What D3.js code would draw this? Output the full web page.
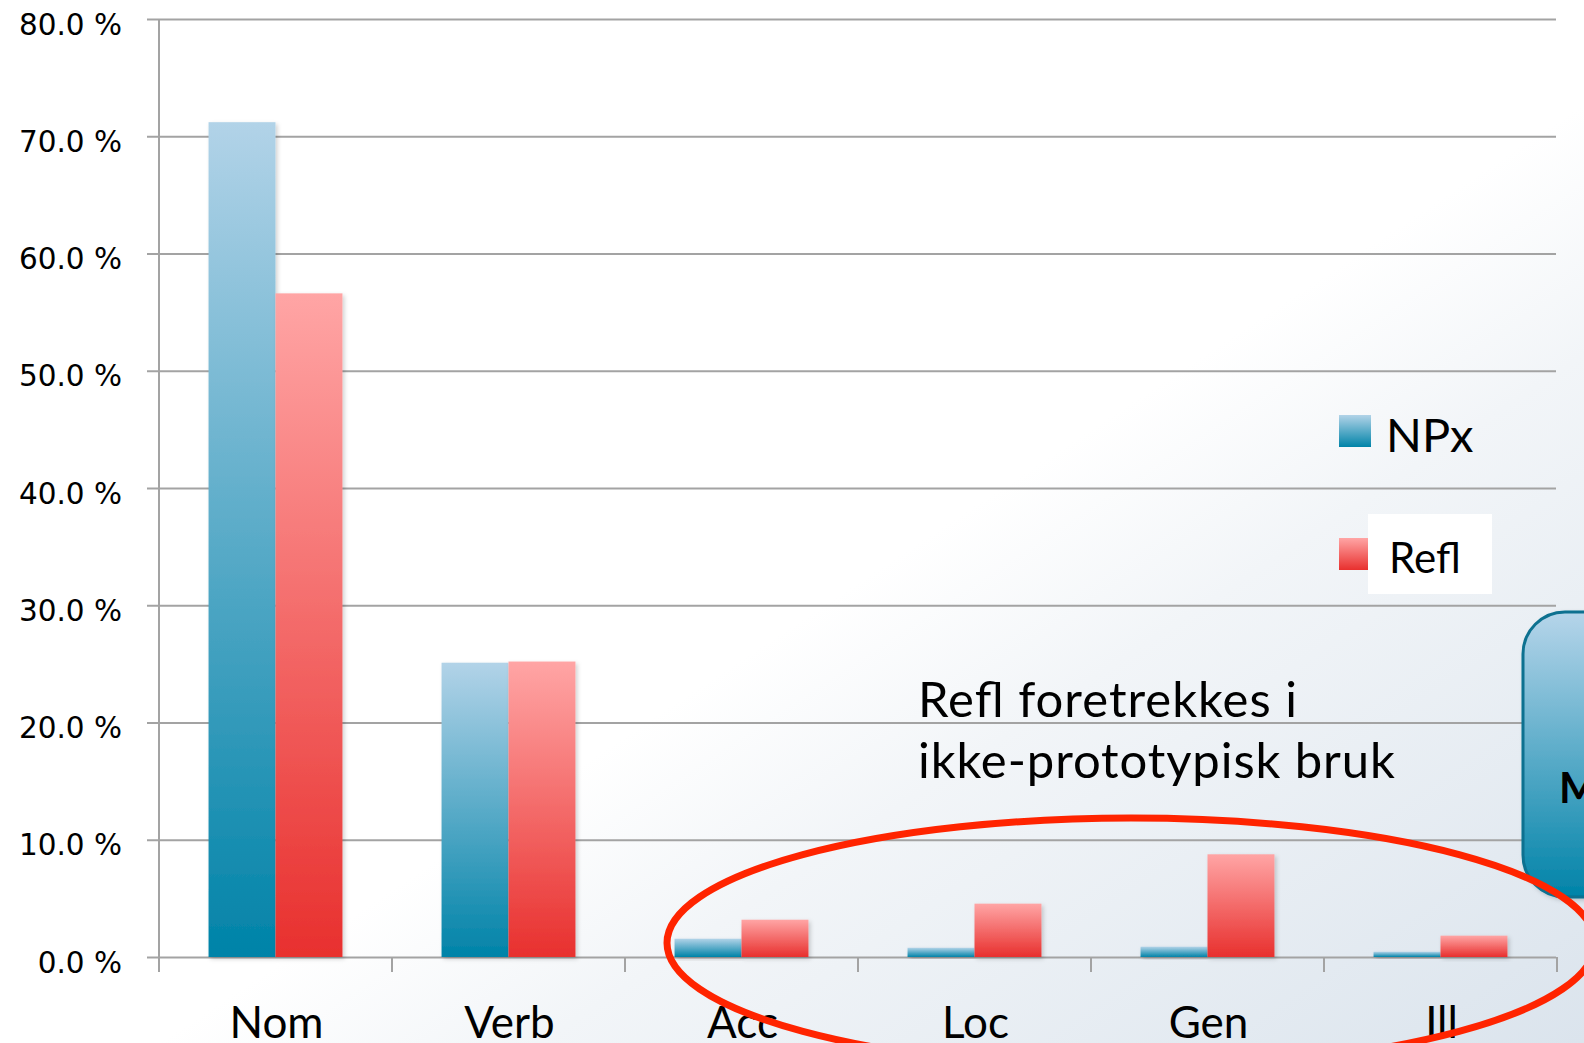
<!DOCTYPE html>
<html>
  <head>
    <meta charset='UTF-8'>
    <style>
    body { margin: 0; }
    svg { display: block; }
    .grid line { stroke: #a3a3a3; stroke-width: 2; }
    .grid text { font-family: 'DejaVu Sans'; font-size: 29.5px; fill: #000; }
    .xlab text { font-family: Lato; font-size: 44px; fill: #000; }
    .note { font-family: Lato; fill: #000; }
    </style>
  </head>
  <body>
  <script src='https://cdnjs.cloudflare.com/ajax/libs/d3/7.8.5/d3.min.js'></script>
  <script>

    var categories = ['Nom', 'Verb', 'Acc', 'Loc', 'Gen', 'Ill'];
    var series = ['NPx', 'Refl'];
    var npx = [0.712, 0.251, 0.0156, 0.0079, 0.0088, 0.0045];
    var refl = [0.566, 0.252, 0.0318, 0.0455, 0.0876, 0.0182];
    var yTicks = [0, 0.1, 0.2, 0.3, 0.4, 0.5, 0.6, 0.7, 0.8];
    var noteLines = ['Refl foretrekkes i', 'ikke-prototypisk bruk'];
    var noteWidths = [379, 477];

    var W = 1584, H = 1043;

    var svg = d3.select('body')
      .append('svg')
      .attr('width', W)
      .attr('height', H);

    var defs = svg.append('defs');

    var bg = defs.append('linearGradient')
      .attr('id', 'bg')
      .attr('x1', 0).attr('y1', 0).attr('x2', 1).attr('y2', 1);
    bg.append('stop').attr('offset', 0).attr('stop-color', '#ffffff');
    bg.append('stop').attr('offset', 0.55).attr('stop-color', '#ffffff');
    bg.append('stop').attr('offset', 0.67).attr('stop-color', '#f2f5f8');
    bg.append('stop').attr('offset', 1).attr('stop-color', '#dbe4ed');

    // per-bar vertical gradients
    function vgrad(id, top, bottom) {
      var g = defs.append('linearGradient')
        .attr('id', id)
        .attr('x1', 0).attr('y1', 0).attr('x2', 0).attr('y2', 1);
      g.append('stop').attr('offset', 0).attr('stop-color', top);
      g.append('stop').attr('offset', 1).attr('stop-color', bottom);
    }
    vgrad('g-NPx', '#b2d3e8', '#0083a8');
    vgrad('g-Refl', '#ffa5a5', '#e8302e');
    vgrad('g-box', '#b6d5ea', '#0083a8');

    var shadow = defs.append('filter').attr('id', 'shadow')
      .attr('x', '-20%').attr('y', '-20%').attr('width', '140%').attr('height', '140%');
    shadow.append('feDropShadow')
      .attr('dx', 2).attr('dy', 2).attr('stdDeviation', 2)
      .attr('flood-color', '#000').attr('flood-opacity', 0.18);

    svg.append('rect')
      .attr('width', W).attr('height', H)
      .attr('fill', 'url(#bg)');

    var x = d3.scaleBand()
      .domain(categories)
      .range([159, 1557]);

    var x1 = d3.scaleBand()
      .domain(series)
      .range([0, x.bandwidth()])
      .paddingOuter(0.74);

    var y = d3.scaleLinear()
      .domain([0, 0.8])
      .range([957, 19]);

    // gridlines + y labels
    var gridAxis = d3.axisLeft(y)
      .tickValues(yTicks)
      .tickSize(1556 - 147)
      .tickPadding(25)
      .tickFormat(function(d) { return d3.format('.1f')(d * 100) + ' %'; });

    var grid = svg.append('g')
      .attr('class', 'grid')
      .attr('transform', 'translate(1556,0)')
      .call(gridAxis);
    grid.select('.domain').remove();
    grid.selectAll('text').attr('dy', 15);

    // vertical axis
    svg.append('line')
      .attr('x1', 159).attr('x2', 159)
      .attr('y1', y(0.8)).attr('y2', y(0) + 15)
      .attr('stroke', '#a3a3a3').attr('stroke-width', 2);

    // category boundary ticks
    var bounds = categories.map(function(c) { return x(c); }).concat([x.range()[1]]);
    svg.selectAll('.xtick')
      .data(bounds)
      .enter()
      .append('line')
      .attr('class', 'xtick')
      .attr('x1', function(d) { return d; })
      .attr('x2', function(d) { return d; })
      .attr('y1', y(0)).attr('y2', y(0) + 15)
      .attr('stroke', '#a3a3a3').attr('stroke-width', 2);

    // bars
    var rows = categories.map(function(c, i) {
      return { cat: c, vals: [{ s: 'NPx', v: npx[i] }, { s: 'Refl', v: refl[i] }] };
    });

    var groups = svg.selectAll('.grp')
      .data(rows)
      .enter()
      .append('g')
      .attr('class', 'grp')
      .attr('transform', function(d) { return 'translate(' + x(d.cat) + ',0)'; });

    groups.selectAll('rect')
      .data(function(d) { return d.vals; })
      .enter()
      .append('rect')
      .attr('x', function(d) { return x1(d.s); })
      .attr('width', x1.bandwidth())
      .attr('y', function(d) { return y(d.v); })
      .attr('height', function(d) { return y(0) - y(d.v); })
      .attr('fill', function(d) { return 'url(#g-' + d.s + ')'; })
      .attr('filter', 'url(#shadow)');

    // category labels
    var xAxis = d3.axisBottom(x).tickSize(0).tickPadding(0);
    var xl = svg.append('g')
      .attr('class', 'xlab')
      .attr('transform', 'translate(0,' + y(0) + ')')
      .call(xAxis);
    xl.select('.domain').remove();
    xl.selectAll('text').attr('y', 81).attr('dy', 0).attr('dx', 1);

    // legend
    var legend = svg.append('g');
    legend.append('rect')
      .attr('x', 1339).attr('y', 415).attr('width', 32).attr('height', 32)
      .attr('fill', 'url(#g-NPx)');
    legend.append('text')
      .attr('class', 'note')
      .attr('x', 1386).attr('y', 452)
      .style('font-size', '47px')
      .text(series[0]);
    legend.append('rect')
      .attr('x', 1339).attr('y', 538).attr('width', 32).attr('height', 32)
      .attr('fill', 'url(#g-Refl)');
    legend.append('rect')
      .attr('x', 1368).attr('y', 514).attr('width', 124).attr('height', 80)
      .attr('fill', '#fff');
    legend.append('text')
      .attr('class', 'note')
      .attr('x', 1389).attr('y', 573)
      .style('font-size', '42px')
      .text(series[1]);

    // annotation
    svg.append('g').selectAll('text')
      .data(noteLines)
      .enter()
      .append('text')
      .attr('class', 'note')
      .attr('x', 918)
      .attr('y', function(d, i) { return 717 + i * 61; })
      .attr('textLength', function(d, i) { return noteWidths[i]; })
      .attr('lengthAdjust', 'spacing')
      .style('font-size', '49px')
      .text(function(d) { return d; });

    // callout box at the right edge
    svg.append('rect')
      .attr('x', 1523).attr('y', 612)
      .attr('width', 120).attr('height', 285)
      .attr('rx', 42).attr('ry', 42)
      .attr('fill', 'url(#g-box)')
      .attr('stroke', '#0c7190').attr('stroke-width', 3)
      .attr('filter', 'url(#shadow)');
    svg.append('text')
      .attr('class', 'note')
      .attr('x', 1559).attr('y', 803)
      .style('font-size', '42px')
      .style('font-weight', 'bold')
      .text('M');

    // red ellipse
    svg.append('ellipse')
      .attr('cx', 1131).attr('cy', 943)
      .attr('rx', 464).attr('ry', 125)
      .attr('fill', 'none')
      .attr('stroke', '#ff2400')
      .attr('stroke-width', 7);

  </script>
  </body>
</html>
